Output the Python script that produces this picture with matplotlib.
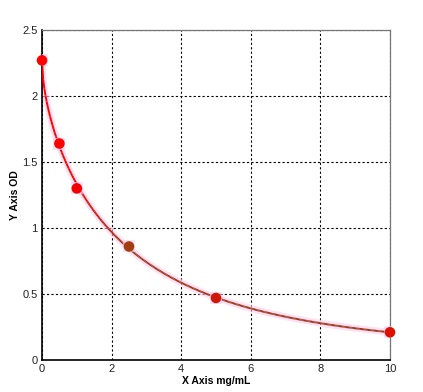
import numpy as np
import matplotlib
matplotlib.use("Agg")
import matplotlib.pyplot as plt
from matplotlib.collections import LineCollection
from matplotlib.colors import LinearSegmentedColormap

# standard curve readings
conc = [0, 0.5, 1, 2.5, 5, 10]
od = [2.27, 1.64, 1.30, 0.86, 0.47, 0.21]
pt_colors = ["#ff0000", "#ff0000", "#f00000", "#a04010", "#d01808", "#e01000"]

x_ticks = [0, 2, 4, 6, 8, 10]
y_ticks = [0, 0.5, 1, 1.5, 2, 2.5]
y_labels = ["0", "0.5", "1", "1.5", "2", "2.5"]

plt.rcParams["font.family"] = ["Liberation Sans", "DejaVu Sans"]

fig = plt.figure(figsize=(4.23, 3.92), dpi=100)
ax = fig.add_axes([42 / 423, 1 - 360 / 392, 348 / 423, 330 / 392])

# smooth fitted curve (cubic in sqrt(x) on log OD)
c = np.polyfit(np.sqrt(conc), np.log(od), 3)
xs = np.linspace(0, 10, 300)
ys = np.exp(np.polyval(c, np.sqrt(xs)))

ax.plot(xs, ys, color="#ffccee", lw=5, alpha=0.6, zorder=2, solid_capstyle="butt")
pts = np.column_stack([xs, ys]).reshape(-1, 1, 2)
segs = np.concatenate([pts[:-1], pts[1:]], axis=1)
cmap = LinearSegmentedColormap.from_list(
    "rb", [(0, "#ff0000"), (0.1, "#e01000"), (0.22, "#a03010"), (1, "#993311")])
lc = LineCollection(segs, cmap=cmap, norm=plt.Normalize(0, 10), lw=1.4, zorder=3)
lc.set_array(xs[:-1])
ax.add_collection(lc)

ax.scatter(conc, od, s=70, c="#ffccee", alpha=0.6, marker="s", zorder=3, linewidths=0)
ax.scatter(conc, od, s=58, c=pt_colors, zorder=4, linewidths=0, clip_on=False)

ax.set_xlim(0, 10)
ax.set_ylim(0, 2.5)
ax.set_xticks(x_ticks)
ax.set_yticks(y_ticks)
ax.set_yticklabels(y_labels)
ax.tick_params(length=0, labelsize=8, colors="#222222", pad=3)
ax.grid(True, color="black", linestyle=(0, (2, 2)), lw=0.8)

for s in ["left", "bottom"]:
    ax.spines[s].set_color("black")
    ax.spines[s].set_linewidth(1.2)
for s in ["top", "right"]:
    ax.spines[s].set_color("#777777")
    ax.spines[s].set_linewidth(0.9)

ax.set_xlabel("X Axis mg/mL", fontsize=7.5, fontweight="bold", labelpad=1)
ax.set_ylabel("Y Axis OD", fontsize=7.5, fontweight="bold", labelpad=2)

fig.savefig("out.png", dpi=100)
